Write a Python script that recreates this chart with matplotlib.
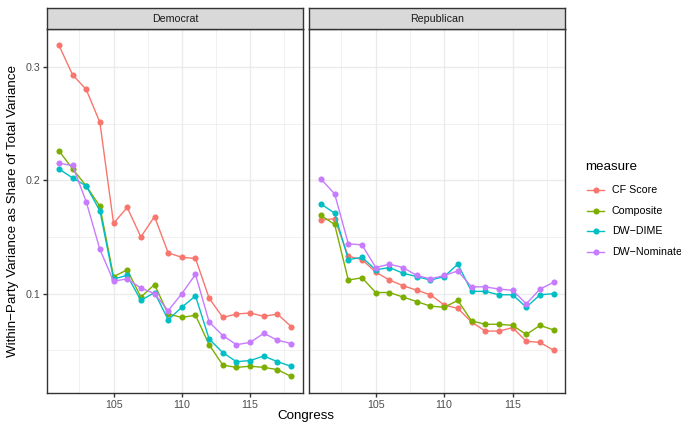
import matplotlib
matplotlib.use("Agg")
import matplotlib.pyplot as plt
from matplotlib.lines import Line2D
import numpy as np

plt.rcParams['font.family'] = ['Liberation Sans', 'DejaVu Sans']

congress = list(range(101, 119))
measures = ["CF Score", "Composite", "DW\u2212DIME", "DW\u2212Nominate"]
colors = ["#F8766D", "#7CAE00", "#00BFC4", "#C77CFF"]
parties = ["Democrat", "Republican"]

dem_cf = [0.319, 0.293, 0.280, 0.251, 0.162, 0.176, 0.150, 0.168, 0.136, 0.132,
          0.131, 0.096, 0.079, 0.082, 0.083, 0.080, 0.082, 0.071]
dem_comp = [0.226, 0.210, 0.195, 0.177, 0.115, 0.121, 0.097, 0.108, 0.082, 0.079,
            0.081, 0.055, 0.037, 0.035, 0.036, 0.035, 0.033, 0.027]
dem_dime = [0.210, 0.202, 0.195, 0.173, 0.113, 0.116, 0.094, 0.101, 0.077, 0.088,
            0.098, 0.060, 0.048, 0.040, 0.041, 0.045, 0.040, 0.036]
dem_nom = [0.215, 0.213, 0.181, 0.139, 0.111, 0.113, 0.105, 0.100, 0.085, 0.100,
           0.117, 0.075, 0.063, 0.055, 0.057, 0.065, 0.059, 0.056]

rep_cf = [0.165, 0.166, 0.133, 0.130, 0.119, 0.112, 0.107, 0.103, 0.099, 0.090,
          0.087, 0.075, 0.067, 0.067, 0.070, 0.058, 0.057, 0.050]
rep_comp = [0.169, 0.161, 0.112, 0.114, 0.101, 0.101, 0.097, 0.093, 0.089, 0.088,
            0.094, 0.076, 0.073, 0.073, 0.072, 0.064, 0.072, 0.068]
rep_dime = [0.179, 0.171, 0.130, 0.132, 0.121, 0.123, 0.118, 0.115, 0.112, 0.115,
            0.126, 0.102, 0.102, 0.099, 0.099, 0.088, 0.099, 0.100]
rep_nom = [0.201, 0.188, 0.144, 0.143, 0.123, 0.126, 0.123, 0.116, 0.113, 0.116,
           0.120, 0.106, 0.106, 0.104, 0.103, 0.091, 0.104, 0.110]

series = {
    "Democrat": [dem_cf, dem_comp, dem_dime, dem_nom],
    "Republican": [rep_cf, rep_comp, rep_dime, rep_nom],
}

W, H = 681, 428
fig = plt.figure(figsize=(W / 100, H / 100), dpi=100)


def px_axes(x0, y0, x1, y1):
    return fig.add_axes([x0 / W, 1 - y1 / H, (x1 - x0) / W, (y1 - y0) / H])


def fx(x):
    return x / W


def fy(y):
    return 1 - y / H


# shared scales with ggplot-style 5% expansion
allv = np.concatenate([np.array(v) for p in parties for v in series[p]])
ymin, ymax = allv.min(), allv.max()
ypad = 0.05 * (ymax - ymin)
xpad = 0.05 * (congress[-1] - congress[0])

grid_c = "#EBEBEB"
border_c = "#333333"
small = 7.7
big = 9.6
lw = 1.0
ms = 4.4
panel_x = [(47.3, 302.7), (309.3, 565.3)]
ptop, pbot = 28.7, 393.0
strip_top = 8.3

for i, party in enumerate(parties):
    x0, x1 = panel_x[i]
    ax = px_axes(x0, ptop, x1, pbot)
    ax.set_xlim(congress[0] - xpad, congress[-1] + xpad)
    ax.set_ylim(ymin - ypad, ymax + ypad)
    ax.set_xticks([105, 110, 115])
    ax.set_xticks([102.5, 107.5, 112.5, 117.5], minor=True)
    ax.set_yticks([0.1, 0.2, 0.3])
    ax.set_yticks([0.05, 0.15, 0.25], minor=True)
    ax.grid(True, which="major", color=grid_c, lw=1.0, zorder=0)
    ax.grid(True, which="minor", color=grid_c, lw=0.5, zorder=0)
    ax.set_axisbelow(True)
    for s in ax.spines.values():
        s.set_color(border_c)
        s.set_linewidth(1.0)
    ax.tick_params(which="major", length=2.75, width=1.0, color=border_c,
                   labelsize=small, labelcolor="#4D4D4D", pad=2)
    ax.tick_params(which="minor", length=0)
    ax.set_xticklabels(["105", "110", "115"])
    if i == 0:
        ax.set_yticklabels(["0.1", "0.2", "0.3"])
    else:
        ax.tick_params(axis="y", which="major", length=0, labelleft=False)
    for vals, c in zip(series[party], colors):
        ax.plot(congress, vals, color=c, lw=lw, marker="o", ms=ms,
                markeredgewidth=0, zorder=3)

    # facet strip
    sax = px_axes(x0, strip_top, x1, ptop)
    sax.set_xticks([])
    sax.set_yticks([])
    sax.set_facecolor("#D9D9D9")
    for s in sax.spines.values():
        s.set_color(border_c)
        s.set_linewidth(1.0)
    sax.text(0.5, 0.5, party, ha="center", va="center", fontsize=small,
             color="#1A1A1A", transform=sax.transAxes)

# axis titles
fig.text(fx((47.3 + 565.3) / 2), fy(416), "Congress", ha="center",
         va="center", fontsize=big, color="black")
fig.text(fx(13), fy((ptop + pbot) / 2),
         "Within\u2212Party Variance as Share of Total Variance",
         rotation=90, ha="center", va="center", fontsize=big, color="black")

# legend, drawn key by key
fig.text(fx(585), fy(167), "measure", ha="left", va="center",
         fontsize=big, color="black")
key_y = [190, 210.7, 231.3, 252]
for label, c, yk in zip(measures, colors, key_y):
    fig.add_artist(Line2D([fx(587), fx(604)], [fy(yk), fy(yk)], color=c,
                          lw=lw, transform=fig.transFigure))
    fig.add_artist(Line2D([fx(595.5)], [fy(yk)], color=c, marker="o",
                          ms=ms, markeredgewidth=0, transform=fig.transFigure))
    fig.text(fx(612), fy(yk), label, ha="left", va="center",
             fontsize=small, color="black")

fig.savefig("out.png", dpi=100)
